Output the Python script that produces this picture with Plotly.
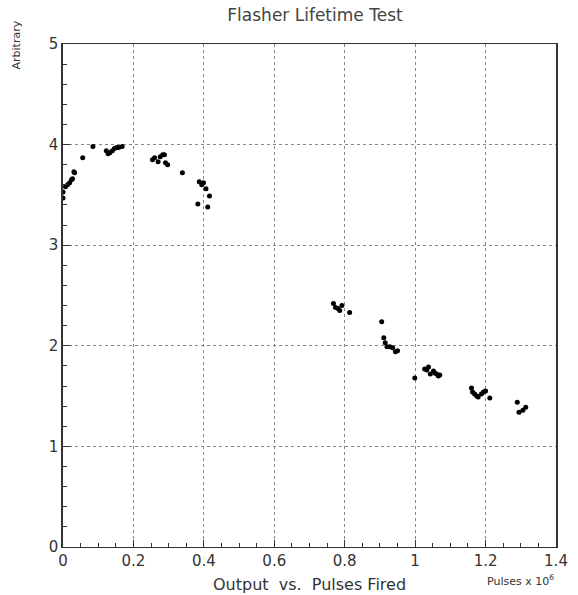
import plotly.graph_objects as go

# Pulses fired (x 10^6)
pulses = [
    0.0, 0.0, 0.007, 0.013, 0.019, 0.024, 0.027, 0.031, 0.033, 0.056, 0.085,
    0.123, 0.128, 0.133, 0.140, 0.146, 0.152, 0.158, 0.168,
    0.254, 0.260, 0.270, 0.276, 0.283, 0.288, 0.291, 0.297, 0.339,
    0.383, 0.387, 0.394, 0.399, 0.406, 0.411, 0.416,
    0.768, 0.774, 0.781, 0.786, 0.792, 0.814,
    0.905, 0.911, 0.915, 0.920, 0.928, 0.936, 0.944, 0.950,
    0.999, 1.027, 1.033, 1.038, 1.043, 1.052, 1.056, 1.061, 1.066, 1.070,
    1.160, 1.163, 1.169, 1.175, 1.179, 1.188, 1.194, 1.200, 1.212,
    1.290, 1.295, 1.306, 1.314,
]
# Output (arbitrary units)
output = [
    3.53, 3.47, 3.58, 3.60, 3.62, 3.65, 3.66, 3.73, 3.72, 3.87, 3.98,
    3.94, 3.91, 3.92, 3.94, 3.96, 3.97, 3.97, 3.98,
    3.85, 3.87, 3.83, 3.88, 3.90, 3.90, 3.82, 3.80, 3.72,
    3.41, 3.63, 3.60, 3.62, 3.56, 3.38, 3.49,
    2.42, 2.38, 2.37, 2.35, 2.40, 2.33,
    2.24, 2.08, 2.03, 1.99, 1.99, 1.98, 1.94, 1.95,
    1.68, 1.77, 1.76, 1.79, 1.72, 1.75, 1.73, 1.72, 1.70, 1.71,
    1.58, 1.54, 1.52, 1.50, 1.49, 1.52, 1.54, 1.55, 1.48,
    1.44, 1.34, 1.36, 1.39,
]

x_ticks = [0, 0.2, 0.4, 0.6, 0.8, 1.0, 1.2, 1.4]
x_tick_labels = ["0", "0.2", "0.4", "0.6", "0.8", "1", "1.2", "1.4"]
y_ticks = [0, 1, 2, 3, 4, 5]

FONT = "DejaVu Sans"
TXT = "#333333"

fig = go.Figure()
fig.add_trace(go.Scatter(
    x=pulses, y=output, mode="markers",
    marker=dict(color="black", size=5),
    showlegend=False,
))

fig.update_layout(
    width=578, height=595,
    margin=dict(l=63, r=10, t=44, b=48),
    paper_bgcolor="white", plot_bgcolor="white",
    font=dict(family=FONT, color=TXT, size=15),
    title=dict(text="Flasher Lifetime Test", x=0.545, xanchor="center",
               y=0.975, yanchor="middle",
               font=dict(family=FONT, size=17, color="#444444")),
    xaxis=dict(
        range=[0, 1.4], tickvals=x_ticks, ticktext=x_tick_labels,
        showgrid=True, gridcolor="#888888", griddash="dot", gridwidth=1,
        showline=True, linecolor="#333333", linewidth=1, mirror=True,
        ticks="inside", ticklen=7, tickcolor="#333333",
        minor=dict(dtick=0.05, ticks="inside", ticklen=4, tickcolor="#333333", showgrid=False),
        zeroline=False, tickfont=dict(size=15, color=TXT),
    ),
    yaxis=dict(
        range=[0, 5], tickvals=y_ticks,
        showgrid=True, gridcolor="#888888", griddash="dot", gridwidth=1,
        showline=True, linecolor="#333333", linewidth=1.5, mirror=True,
        ticks="inside", ticklen=7, tickcolor="#333333",
        minor=dict(dtick=0.2, ticks="inside", ticklen=4, tickcolor="#333333", showgrid=False),
        zeroline=False, tickfont=dict(size=15, color=TXT),
    ),
    annotations=[
        dict(text="Output  vs.  Pulses Fired", xref="paper", yref="paper",
             x=0.5, y=-0.052, xanchor="center", yanchor="top", showarrow=False,
             font=dict(family=FONT, size=16, color=TXT)),
        dict(text="Pulses x 10<sup>6</sup>", xref="paper", yref="paper",
             x=1.0, y=-0.047, xanchor="right", yanchor="top", showarrow=False,
             font=dict(family=FONT, size=11, color=TXT)),
        dict(text="Arbitrary", xref="paper", yref="paper",
             x=-0.095, y=1.05, xanchor="center", yanchor="top", textangle=-90,
             showarrow=False, font=dict(family=FONT, size=11, color=TXT)),
    ],
)

# remove page margin/scrollbars, then redraw at the full window size
fig.write_html(
    "out.html",
    config={"displayModeBar": False, "responsive": False},
    post_script=(
        "document.documentElement.style.overflow='hidden';"
        "document.body.style.overflow='hidden';"
        "document.body.style.margin='0px';"
        "Plotly.relayout('{plot_id}', {width: 578, height: 595});"
    ),
)
